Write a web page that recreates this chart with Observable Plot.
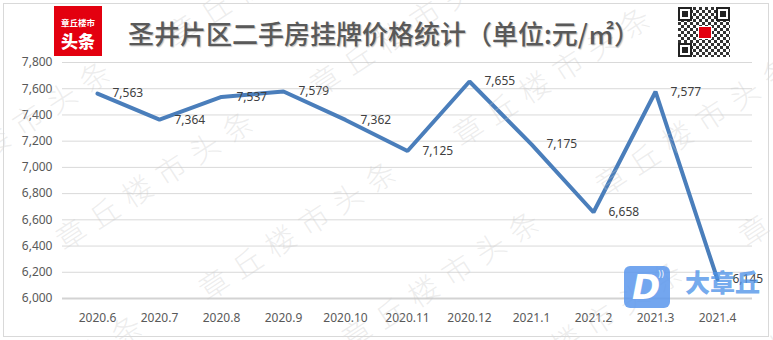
<!DOCTYPE html>
<html>
<head>
<meta charset="utf-8">
<script src="https://cdn.jsdelivr.net/npm/d3@7"></script>
<script src="https://cdn.jsdelivr.net/npm/@observablehq/plot@0.6"></script>
<style>
  html, body { margin: 0; padding: 0; background: #fff; }
  #wrap { position: relative; width: 773px; height: 340px; overflow: hidden; background: #fff; }
  #chart { position: absolute; left: 0; top: 0; }
  .abs { position: absolute; }
  #frame { left: 3px; top: 3px; border: 1px solid #d9d9d9; box-sizing: border-box; width: 766px; height: 334px; }
  #title { left: 128px; top: 18px; font-family: "Noto Sans CJK SC", sans-serif; font-weight: 500; font-size: 26px; line-height: 30px; color: #595959; white-space: nowrap; text-shadow: 1px 1px 1px rgba(0,0,0,0.25); }
  #logo { left: 54px; top: 6px; width: 48px; height: 50px; background: #e3000f; color: #fff; font-family: "Noto Sans CJK SC", sans-serif; text-align: center; }
  #logo .s { position: absolute; left: 0; width: 48px; top: 11px; font-size: 8.5px; line-height: 10px; font-weight: 700; }
  #logo .b { position: absolute; left: 0; width: 48px; top: 25px; font-size: 17px; line-height: 20px; font-weight: 900; }
  #qr { left: 678px; top: 7px; width: 52px; height: 50px;
        background: repeating-conic-gradient(#333 0 25%, #fff 0 50%) 0 0/6px 6px; }
  .finder { position: absolute; width: 10px; height: 10px; border: 2px solid #222; background: #fff; }
  .finder::after { content: ""; position: absolute; left: 2px; top: 2px; width: 6px; height: 6px; background: #222; }
  #qrc { position: absolute; left: 20px; top: 19px; width: 12px; height: 11px; background: #e3000f; border: 1px solid #fff; }
  .wm { position: absolute; font-family: "Noto Sans CJK SC", sans-serif; font-weight: 300; font-size: 30px; line-height: 30px; letter-spacing: 9.7px; white-space: nowrap; color: rgba(200,200,200,0.32); transform-origin: 15px 15px; transform: rotate(-33deg); pointer-events: none; }
  #dlogo { left: 624px; top: 266px; width: 46px; height: 42px; background: rgba(90,150,236,0.85); border-radius: 6px; }
  #dlogo .d { position: absolute; left: 8px; top: 1px; font-family: "DejaVu Sans", sans-serif; font-style: italic; font-weight: 900; font-size: 34px; line-height: 40px; color: #fff; }
  #dlogo .w { position: absolute; left: 34px; top: 4px; font-family: "DejaVu Sans", sans-serif; font-size: 8px; color: #fff; }
  #dtext { left: 685px; top: 266px; font-family: "Noto Sans CJK SC", sans-serif; font-weight: 900; font-size: 25px; line-height: 30px; color: rgba(80,148,232,0.8); white-space: nowrap; }
</style>
</head>
<body>
<div id="wrap">
  <div id="chart"></div>
  <div id="wms"></div>
  <div id="frame" class="abs"></div>
  <div id="logo" class="abs"><div class="s">章丘楼市</div><div class="b">头条</div></div>
  <div id="title" class="abs"></div>
  <div id="qr" class="abs">
    <div class="finder" style="left:0;top:0"></div>
    <div class="finder" style="right:0;top:0"></div>
    <div class="finder" style="left:0;bottom:0"></div>
    <div id="qrc"></div>
  </div>
  <div id="dlogo" class="abs"><div class="d">D</div><div class="w">))</div></div>
  <div id="dtext" class="abs">大章丘</div>
</div>
<script>
const titleText = "圣井片区二手房挂牌价格统计（单位:元/㎡）";
const months = ["2020.6", "2020.7", "2020.8", "2020.9", "2020.10", "2020.11", "2020.12", "2021.1", "2021.2", "2021.3", "2021.4"];
const prices = [7563, 7364, 7537, 7579, 7362, 7125, 7655, 7175, 6658, 7577, 6145];
const yTicks = [6000, 6200, 6400, 6600, 6800, 7000, 7200, 7400, 7600, 7800];
const watermarkText = "章丘楼市头条";

document.getElementById("title").textContent = titleText;

const data = months.map((m, i) => ({month: m, price: prices[i]}));
const fmt = d3.format(",");

const plot = Plot.plot({
  width: 773,
  height: 340,
  marginLeft: 62,
  marginRight: 21,
  marginTop: 62,
  marginBottom: 42,
  style: {fontFamily: "'Noto Sans', sans-serif", fontSize: "12px", color: "#595959", background: "transparent"},
  x: {type: "point", domain: months, padding: 0.5, tickSize: 0, tickPadding: 15, label: null},
  y: {domain: [6000, 7800], ticks: yTicks, tickSize: 0, tickPadding: 10, tickFormat: fmt, label: null},
  marks: [
    Plot.ruleY(yTicks.filter(t => t > 6000), {stroke: "#d9d9d9", strokeWidth: 1}),
    Plot.ruleY([6000], {stroke: "#d3d3d3", strokeWidth: 2}),
    Plot.line(data, {x: "month", y: "price", stroke: "#4a7ebb", strokeWidth: 4, strokeLinejoin: "miter"}),
    Plot.text(data, {x: "month", y: "price", text: d => fmt(d.price), textAnchor: "start", dx: 15, fill: "#404040", fontSize: 12})
  ]
});
document.getElementById("chart").appendChild(plot);

// tiled watermark
const wms = document.getElementById("wms");
const A = [70, 233], v1 = [143, 50], v2 = [254, -154];
for (let i = -3; i <= 5; i++) {
  for (let j = -2; j <= 3; j++) {
    const x = A[0] + i * v1[0] + j * v2[0];
    const y = A[1] + i * v1[1] + j * v2[1];
    if (x < -240 || x > 790 || y < -40 || y > 520) continue;
    const el = document.createElement("div");
    el.className = "wm";
    el.textContent = watermarkText;
    el.style.left = (x - 15) + "px";
    el.style.top = (y - 15) + "px";
    wms.appendChild(el);
  }
}
</script>
</body>
</html>
